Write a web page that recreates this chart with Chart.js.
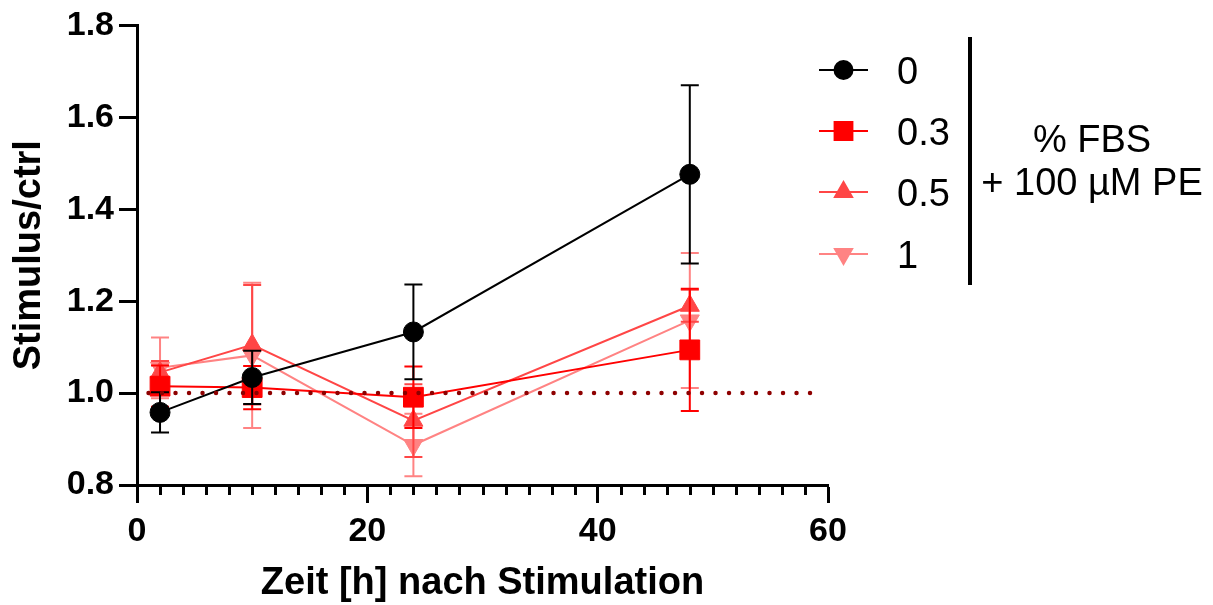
<!DOCTYPE html>
<html>
<head>
<meta charset="utf-8">
<script src="https://cdn.jsdelivr.net/npm/chart.js@4/dist/chart.umd.min.js"></script>
<style>
  body { margin: 0; background: #fff; }
  canvas { display: block; }
</style>
</head>
<body>
<canvas id="chartCanvas" width="1213" height="605"></canvas>
<script>
// time points (h) and mean values (stimulus / ctrl) with SEM
let times = [2, 10, 24, 48];
let fbs0 = [0.958, 1.034, 1.133, 1.476];
let err0 = [0.044, 0.058, 0.103, 0.194];
let fbs03 = [1.015, 1.012, 0.991, 1.094];
let err03 = [0.045, 0.047, 0.067, 0.133];
let fbs05 = [1.045, 1.105, 0.94, 1.19];
let err05 = [0.025, 0.13, 0.079, 0.035];
let fbs1 = [1.055, 1.082, 0.887, 1.158];
let err1 = [0.066, 0.158, 0.068, 0.147];

let seriesLabels = ['0', '0.3', '0.5', '1'];
let refX = [1, 59];
let refY = [1.0, 1.0];

let yTicks = [0.8, 1.0, 1.2, 1.4, 1.6, 1.8];
let xMajor = [0, 20, 40, 60];

const FONT = '"Liberation Sans", Arial, sans-serif';
const colors = ['#000000', '#ff0000', '#ff4646', '#ff8383'];
const styles = [
  { pointStyle: 'circle', radius: 10, rotation: 0 },
  { pointStyle: 'rect', radius: 14, rotation: 0 },
  { pointStyle: 'triangle', radius: 11, rotation: 0 },
  { pointStyle: 'triangle', radius: 11, rotation: 180 }
];
const means = [fbs0, fbs03, fbs05, fbs1];
const errs = [err0, err03, err05, err1];

function series(i) {
  return {
    label: seriesLabels[i],
    data: times.map((t, k) => ({ x: t, y: means[i][k] })),
    errors: errs[i],
    borderColor: colors[i],
    backgroundColor: colors[i],
    borderWidth: 2,
    pointStyle: styles[i].pointStyle,
    pointRadius: styles[i].radius,
    pointRotation: styles[i].rotation,
    pointBackgroundColor: colors[i],
    pointBorderColor: colors[i],
    pointBorderWidth: 1,
    tension: 0
  };
}

let datasets = [
  {
    label: 'ref',
    data: refX.map((x, k) => ({ x: x, y: refY[k] })),
    borderColor: '#8e0000',
    borderWidth: 4.5,
    borderDash: [0, 13.5],
    borderCapStyle: 'round',
    pointRadius: 0,
    tension: 0
  },
  series(0), series(1), series(2), series(3)
];

// error bars, drawn right before the dataset they belong to
const errorBars = {
  id: 'errorBars',
  beforeDatasetDraw(chart, args) {
    const ds = chart.data.datasets[args.index];
    if (!ds.errors) return;
    const ctx = chart.ctx;
    const xs = chart.scales.x, ys = chart.scales.y;
    ctx.save();
    ctx.strokeStyle = ds.borderColor;
    ctx.lineWidth = 2;
    ds.data.forEach((p, k) => {
      const e = ds.errors[k];
      const px = xs.getPixelForValue(p.x);
      const top = ys.getPixelForValue(p.y + e);
      const bot = ys.getPixelForValue(p.y - e);
      ctx.beginPath();
      ctx.moveTo(px, top); ctx.lineTo(px, bot);
      ctx.moveTo(px - 9, top); ctx.lineTo(px + 9, top);
      ctx.moveTo(px - 9, bot); ctx.lineTo(px + 9, bot);
      ctx.stroke();
    });
    ctx.restore();
  }
};

// minor x ticks (every 2 h) and the legend block
const extras = {
  id: 'extras',
  afterDraw(chart) {
    const ctx = chart.ctx;
    const xs = chart.scales.x;
    const base = chart.chartArea.bottom;
    ctx.save();
    ctx.strokeStyle = '#000';
    ctx.lineWidth = 3;
    for (let v = 2; v < 60; v += 2) {
      if (v % 20 === 0) continue;
      const px = Math.round(xs.getPixelForValue(v)) + 0.5;
      ctx.beginPath();
      ctx.moveTo(px, base);
      ctx.lineTo(px, base + 10);
      ctx.stroke();
    }

    // legend
    const rowY = [70, 131, 192, 254];
    ctx.font = '38px ' + FONT;
    ctx.textBaseline = 'alphabetic';
    ctx.textAlign = 'left';
    seriesLabels.forEach((lab, i) => {
      const y = rowY[i];
      ctx.strokeStyle = colors[i];
      ctx.lineWidth = 2;
      ctx.beginPath();
      ctx.moveTo(819, y); ctx.lineTo(868, y);
      ctx.stroke();
      ctx.fillStyle = colors[i];
      Chart.helpers.drawPoint(ctx, {
        pointStyle: styles[i].pointStyle,
        radius: styles[i].radius * 0.9,
        rotation: styles[i].rotation,
        borderWidth: 1
      }, 843.5, y);
      ctx.fillStyle = '#000';
      ctx.fillText(lab, 897, y + 13.5);
    });

    ctx.strokeStyle = '#000';
    ctx.lineWidth = 4;
    ctx.beginPath();
    ctx.moveTo(970, 37); ctx.lineTo(970, 285);
    ctx.stroke();

    ctx.fillStyle = '#000';
    ctx.textAlign = 'center';
    ctx.fillText('% FBS', 1092, 152);
    ctx.fillText('+ 100 µM PE', 1092, 195);
    ctx.restore();
  }
};

const chart = new Chart(document.getElementById('chartCanvas'), {
  type: 'line',
  data: { datasets: datasets },
  plugins: [errorBars, extras],
  options: {
    responsive: false,
    animation: false,
    layout: { padding: { left: 0, top: 23, right: 385, bottom: 0 } },
    plugins: { legend: { display: false }, tooltip: { enabled: false } },
    scales: {
      x: {
        type: 'linear',
        min: 0, max: 60,
        afterFit: s => { s.height = 120; },
        afterBuildTicks: s => { s.ticks = xMajor.map(v => ({ value: v })); },
        ticks: {
          color: '#000', padding: 8, maxRotation: 0,
          font: { family: FONT, size: 34, weight: 'bold' }
        },
        grid: { drawOnChartArea: false, tickLength: 18, tickWidth: 3, tickColor: '#000' },
        border: { color: '#000', width: 3 },
        title: {
          display: true, text: 'Zeit [h] nach Stimulation', color: '#000',
          font: { family: FONT, size: 38, weight: 'bold', lineHeight: 1 },
          padding: { top: 0, bottom: 2 }
        }
      },
      y: {
        min: 0.8, max: 1.8,
        afterFit: s => { s.width = 137; },
        afterBuildTicks: s => { s.ticks = yTicks.map(v => ({ value: v })); },
        ticks: {
          color: '#000', padding: 5,
          font: { family: FONT, size: 34, weight: 'bold' },
          callback: v => v.toFixed(1)
        },
        grid: { drawOnChartArea: false, tickLength: 18, tickWidth: 3, tickColor: '#000' },
        border: { color: '#000', width: 3 },
        title: {
          display: true, text: 'Stimulus/ctrl', color: '#000',
          font: { family: FONT, size: 38, weight: 'bold', lineHeight: 1 },
          padding: { top: 11, bottom: 0 }
        }
      }
    }
  }
});
</script>
</body>
</html>
